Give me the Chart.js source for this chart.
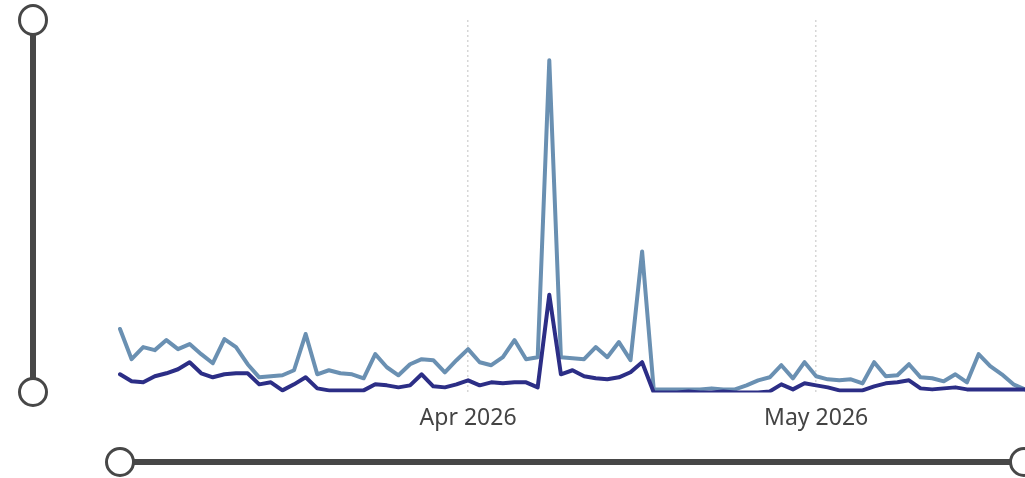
<!DOCTYPE html>
<html>
<head>
<meta charset="utf-8">
<script src="https://cdn.jsdelivr.net/npm/chart.js@4/dist/chart.umd.min.js"></script>
<style>
  html, body { margin: 0; padding: 0; background: #fff; overflow: hidden; }
  #wrap { position: relative; width: 1025px; height: 478px; }
  canvas { position: absolute; left: 0; top: 0; }
  .bar { position: absolute; background: #474747; border-radius: 3px; }
  .knob { position: absolute; width: 24px; height: 24px; border: 3px solid #474747;
          border-radius: 50%; background: #fff; }
</style>
</head>
<body>
<div id="wrap">
  <canvas id="trend-chart" width="1025" height="478"></canvas>
  <div class="bar" style="left:30px; top:20px; width:6px; height:372px;"></div>
  <div class="knob" style="left:18px; top:4px; height:26px;"></div>
  <div class="knob" style="left:18px; top:377px;"></div>
  <div class="bar" style="left:120px; top:459px; width:905px; height:6px;"></div>
  <div class="knob" style="left:105px; top:447px;"></div>
  <div class="knob" style="left:1009px; top:447px;"></div>
</div>
<script>
// daily points, 2 Mar 2026 .. 19 May 2026
const startDate = '2026-03-02';
const dayCount = 79;

const tickLabels = { '2026-04-01': 'Apr 2026', '2026-05-01': 'May 2026' };

const seriesTotal = [
  63, 33, 45, 42, 52, 43, 48, 38, 29, 53,
  45, 28, 15, 16, 17, 22, 58, 18, 22, 19,
  18, 14, 38, 25, 17, 28, 33, 32, 20, 32,
  43, 30, 27, 35, 52, 33, 35, 330, 35, 34,
  33, 45, 35, 50, 32, 140, 3, 3, 3, 3,
  3, 4, 3, 3, 7, 12, 15, 27, 14, 30,
  16, 13, 12, 13, 9, 30, 16, 17, 28, 15,
  14, 11, 18, 10, 38, 26, 18, 8, 3
];

const seriesSub = [
  18, 11, 10, 16, 19, 23, 30, 19, 15, 18,
  19, 19, 8, 10, 2, 8, 15, 4, 2, 2,
  2, 2, 8, 7, 5, 7, 18, 6, 5, 8,
  12, 7, 10, 9, 10, 10, 5, 97, 18, 22,
  16, 14, 13, 15, 20, 30, 0, 0, 0, 1,
  0, 0, 1, 0, 0, 0, 1, 8, 3, 9,
  7, 5, 2, 2, 2, 6, 9, 10, 12, 4,
  3, 4, 5, 3, 3, 3, 3, 3, 3
];

function buildDays(start, n) {
  const out = [];
  const d = new Date(start + 'T00:00:00Z');
  for (let i = 0; i < n; i++) {
    out.push(d.toISOString().slice(0, 10));
    d.setUTCDate(d.getUTCDate() + 1);
  }
  return out;
}

const days = buildDays(startDate, dayCount);

const ctx = document.getElementById('trend-chart').getContext('2d');
new Chart(ctx, {
  type: 'line',
  data: {
    labels: days,
    datasets: [
      {
        label: 'Sub',
        data: seriesSub,
        borderColor: '#2c2e86',
        borderWidth: 4,
        order: 0
      },
      {
        label: 'Total',
        data: seriesTotal,
        borderColor: '#6a90b2',
        borderWidth: 4,
        order: 1
      }
    ]
  },
  options: {
    responsive: false,
    animation: false,
    layout: { padding: { left: 120, right: 0, top: 20, bottom: 34 } },
    elements: {
      point: { radius: 0 },
      line: { tension: 0, borderJoinStyle: 'round', borderCapStyle: 'round' }
    },
    plugins: { legend: { display: false }, tooltip: { enabled: false } },
    scales: {
      x: {
        offset: false,
        // run the lines right up to the edge
        afterFit: scale => { scale.paddingLeft = 0; scale.paddingRight = 0; },
        grid: {
          drawTicks: false,
          lineWidth: 1.5,
          color: c => (tickLabels[days[c.index]] ? '#d6d6d6' : 'rgba(0,0,0,0)')
        },
        border: { display: false, dash: [2, 3] },
        ticks: {
          autoSkip: false,
          maxRotation: 0,
          padding: 12,
          color: '#444',
          font: { family: 'Noto Sans', size: 23 },
          callback: (v, i) => tickLabels[days[i]] || ''
        }
      },
      y: {
        display: false,
        min: 0,
        max: 370
      }
    }
  }
});
</script>
</body>
</html>
